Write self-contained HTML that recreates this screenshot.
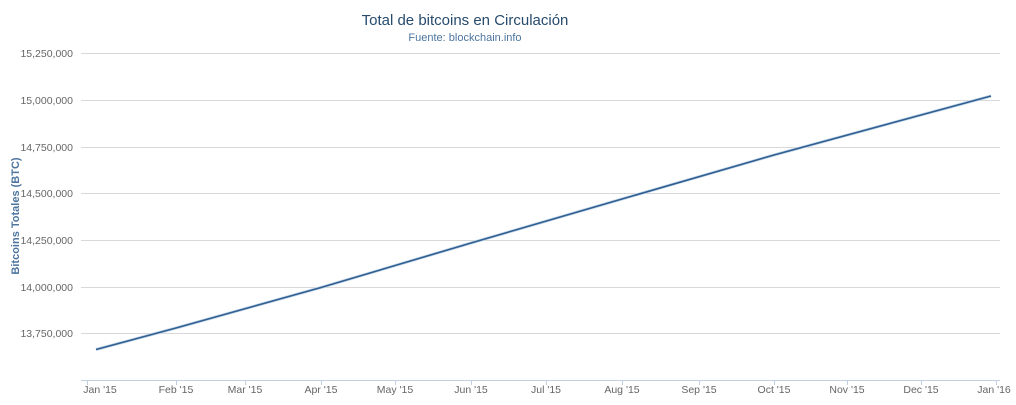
<!DOCTYPE html>
<html><head><meta charset="utf-8"><style>
body{margin:0;background:#fff;width:1016px;height:400px;overflow:hidden;font-family:"Liberation Sans",sans-serif}
</style></head><body>
<svg width="1016" height="400" xmlns="http://www.w3.org/2000/svg" font-family="Liberation Sans, sans-serif">
<text x="465" y="25" text-anchor="middle" font-size="15" fill="#274b6d">Total de bitcoins en Circulación</text>
<text x="465" y="41" text-anchor="middle" font-size="11" fill="#4d759e">Fuente: blockchain.info</text>
<g stroke="#d8d8d8" stroke-width="1">
<line x1="81" x2="1000" y1="53.5" y2="53.5"/>
<line x1="81" x2="1000" y1="100.5" y2="100.5"/>
<line x1="81" x2="1000" y1="147.5" y2="147.5"/>
<line x1="81" x2="1000" y1="193.5" y2="193.5"/>
<line x1="81" x2="1000" y1="240.5" y2="240.5"/>
<line x1="81" x2="1000" y1="287.5" y2="287.5"/>
<line x1="81" x2="1000" y1="333.5" y2="333.5"/>
</g>
<line x1="81" x2="1000" y1="380.5" y2="380.5" stroke="#c0d0e0"/>
<g stroke="#c0d0e0">
<line x1="87.5" x2="87.5" y1="380" y2="385"/><line x1="176.5" x2="176.5" y1="380" y2="385"/>
<line x1="245.5" x2="245.5" y1="380" y2="385"/><line x1="321.5" x2="321.5" y1="380" y2="385"/>
<line x1="395.5" x2="395.5" y1="380" y2="385"/><line x1="471.5" x2="471.5" y1="380" y2="385"/>
<line x1="546.5" x2="546.5" y1="380" y2="385"/><line x1="622.5" x2="622.5" y1="380" y2="385"/>
<line x1="699.5" x2="699.5" y1="380" y2="385"/><line x1="774.5" x2="774.5" y1="380" y2="385"/>
<line x1="847.5" x2="847.5" y1="380" y2="385"/><line x1="921.5" x2="921.5" y1="380" y2="385"/>
<line x1="996.5" x2="996.5" y1="380" y2="385"/>
</g>
<g font-size="10.5" fill="#666" text-anchor="end">
<text x="73" y="57">15,250,000</text><text x="73" y="104">15,000,000</text>
<text x="73" y="151">14,750,000</text><text x="73" y="197">14,500,000</text>
<text x="73" y="244">14,250,000</text><text x="73" y="291">14,000,000</text>
<text x="73" y="337">13,750,000</text>
</g>
<g font-size="10.5" fill="#666" text-anchor="middle">
<text x="100" y="393">Jan '15</text><text x="176" y="393">Feb '15</text>
<text x="245" y="393">Mar '15</text><text x="321" y="393">Apr '15</text>
<text x="395" y="393">May '15</text><text x="471" y="393">Jun '15</text>
<text x="546" y="393">Jul '15</text><text x="622" y="393">Aug '15</text>
<text x="699" y="393">Sep '15</text><text x="774" y="393">Oct '15</text>
<text x="847" y="393">Nov '15</text><text x="921" y="393">Dec '15</text>
<text x="994" y="393">Jan '16</text>
</g>
<text transform="translate(19,216) rotate(-90)" text-anchor="middle" font-size="11" font-weight="bold" fill="#4d759e">Bitcoins Totales (BTC)</text>
<polyline fill="none" stroke="#c6d7ea" stroke-width="3" points="96,349.5 176,328 321,287.5 471,243 622,199 774,155 921,115 991,96"/>
<polyline fill="none" stroke="#2f5f91" stroke-width="1.6" points="96,349.5 176,328 321,287.5 471,243 622,199 774,155 921,115 991,96"/>
</svg>
</body></html>
